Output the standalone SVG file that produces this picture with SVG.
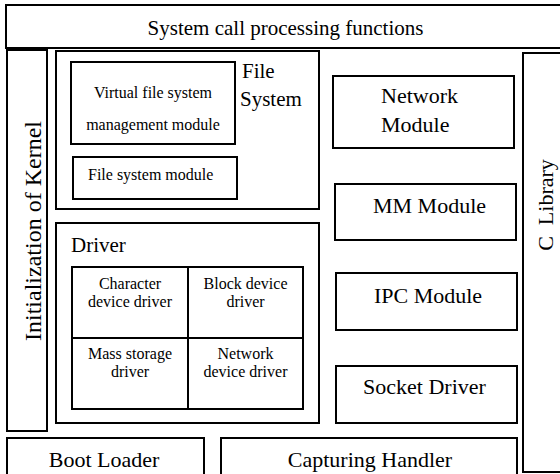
<svg xmlns="http://www.w3.org/2000/svg" width="560" height="474" viewBox="0 0 560 474" font-family="Liberation Serif, DejaVu Serif, serif">
<style>
.b{fill:#fff;stroke:#000;stroke-width:2}
.g{fill:none;stroke:#000;stroke-width:2}
.L{font-size:22px}
.T{font-size:21px}
.S{font-size:16px}
.c{text-anchor:middle}
</style>
<rect width="560" height="474" fill="#fff"/>
<g id="syscall"><rect class="b" x="6" y="5" width="600" height="43"/><text class="T c" x="285.5" y="35">System call processing functions</text></g>
<g id="kernel-init"><rect class="b" x="7" y="50" width="40" height="381"/><text class="L c" transform="translate(41,231) rotate(-90)" style="font-size:24px">Initialization of Kernel</text></g>
<g id="file-system"><rect class="b" x="56" y="51" width="263" height="158"/><text class="T" x="242" y="78">File</text><text class="T" x="240" y="106">System</text></g>
<g id="vfs"><rect class="b" x="71" y="62" width="164" height="82"/><text class="S c" x="153" y="98">Virtual file system</text><text class="S c" x="153" y="130">management module</text></g>
<g id="fs-module"><rect class="b" x="73" y="157" width="164" height="42"/><text class="S" x="88" y="180">File system module</text></g>
<g id="driver"><rect class="b" x="56" y="223" width="263" height="200"/><text class="T" x="71" y="252">Driver</text></g>
<g id="driver-grid"><rect class="b" x="72" y="267" width="231" height="142"/><line class="g" x1="188" y1="267" x2="188" y2="409"/><line class="g" x1="72" y1="338" x2="303" y2="338"/></g>
<g id="char-driver"><text class="S c" x="130" y="289">Character</text><text class="S c" x="130" y="307">device driver</text></g>
<g id="block-driver"><text class="S c" x="245.5" y="289">Block device</text><text class="S c" x="245.5" y="307">driver</text></g>
<g id="mass-driver"><text class="S c" x="130" y="359">Mass storage</text><text class="S c" x="130" y="377">driver</text></g>
<g id="net-driver"><text class="S c" x="245.5" y="359">Network</text><text class="S c" x="245.5" y="377">device driver</text></g>
<g id="network-module"><rect class="b" x="333" y="76" width="181" height="72"/><text class="L" x="381" y="103">Network</text><text class="L" x="381" y="132">Module</text></g>
<g id="mm-module"><rect class="b" x="335" y="184" width="181" height="56"/><text class="L c" x="429.5" y="213">MM Module</text></g>
<g id="ipc-module"><rect class="b" x="336" y="273" width="181" height="57"/><text class="L c" x="428" y="303">IPC Module</text></g>
<g id="socket-driver"><rect class="b" x="336" y="366" width="181" height="57"/><text class="L c" x="424.5" y="394">Socket Driver</text></g>
<g id="c-library"><rect class="b" x="523" y="53" width="60" height="419"/><text class="L c" transform="translate(553,205) rotate(-90)" xml:space="preserve">C  Library</text></g>
<g id="boot-loader"><rect class="b" x="7" y="438" width="197" height="60"/><text class="L c" x="104" y="467">Boot Loader</text></g>
<g id="capturing-handler"><rect class="b" x="221" y="438" width="296" height="60"/><text class="L c" x="370" y="467">Capturing Handler</text></g>
<g id="connectors"></g>
</svg>
